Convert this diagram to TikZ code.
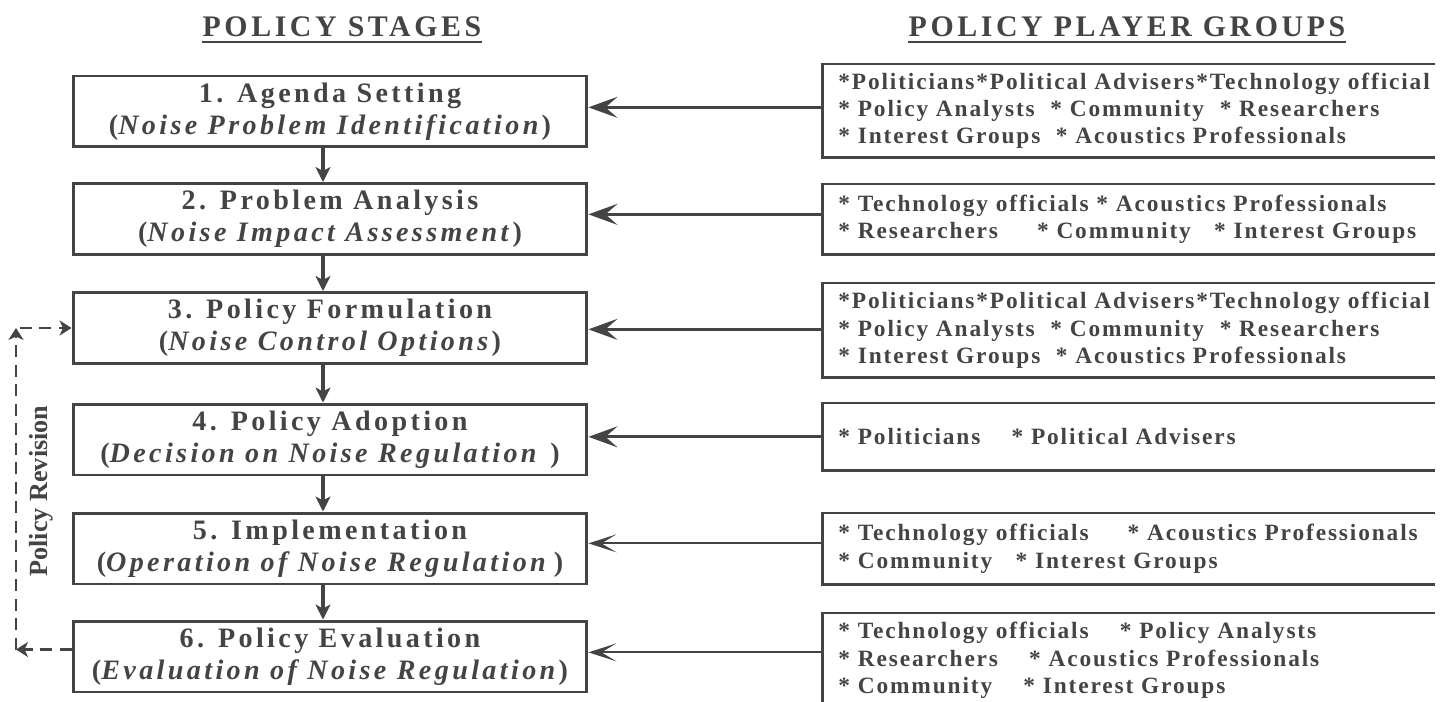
\documentclass[tikz,border=0pt]{standalone}
\usepackage{fontspec}
\setmainfont{Liberation Serif}
\newfontfamily\stagefont[LetterSpace=12]{Liberation Serif}
\newfontfamily\playerfont[LetterSpace=8]{Liberation Serif}
\usetikzlibrary{arrows.meta,calc}
\definecolor{ink}{RGB}{68,68,68}
\tikzset{
  stage/.style={draw=ink, line width=1.7pt, text=ink, minimum width=10.28cm, minimum height=1.42cm,
    inner sep=0pt, align=center, font=\stagefont\bfseries\fontsize{16}{18.2}\selectfont},
  players/.style={anchor=north west, inner xsep=0.32cm, inner ysep=0pt, text width=12.1cm,
    align=left, text=ink, font=\playerfont\bfseries\fontsize{13.3}{15.6}\selectfont},
  heading/.style={text=ink, inner sep=0pt, font=\stagefont\bfseries\fontsize{17}{20}\selectfont},
  openbox/.style={ink, line width=1.7pt},
  feed/.style={ink, line width=1.8pt, -{Stealth[length=0.58cm,width=0.42cm,inset=0.24cm]}},
  feedthin/.style={ink, line width=1.1pt, -{Stealth[length=0.56cm,width=0.36cm,inset=0.3cm]}},
  down/.style={ink, line width=1.8pt, -{Stealth[length=0.3cm,width=0.3cm,inset=0.08cm]}},
  revise/.style={ink, line width=1.4pt, dash pattern=on 0.24cm off 0.15cm,
    -{Stealth[length=0.24cm,width=0.3cm,inset=0.07cm]}}
}
\begin{document}
\begin{tikzpicture}[x=0.02cm,y=-0.02cm]
\useasboundingbox (0,0) rectangle (1452,702);
% headings
\node[heading] (h1) at (342,27) {POLICY STAGES};
\node[heading] (h2) at (1127,27) {POLICY PLAYER GROUPS};
\draw[ink,line width=1.2pt] ($(h1.south west)+(0,5)$) -- ($(h1.south east)+(0,5)$);
\draw[ink,line width=1.2pt] ($(h2.south west)+(0,5)$) -- ($(h2.south east)+(0,5)$);
% policy stages
\node[stage] (s1) at (330,111.5) {1. Agenda Setting\\(\textit{Noise Problem Identification})};
\node[stage] (s2) at (330,219) {2. Problem Analysis\\(\textit{Noise Impact Assessment})};
\node[stage] (s3) at (330,328) {3. Policy Formulation\\(\textit{Noise Control Options})};
\node[stage] (s4) at (330,439.5) {4. Policy Adoption\\(\textit{Decision on Noise Regulation} )};
\node[stage] (s5) at (330,548.5) {5. Implementation\\(\textit{Operation of Noise Regulation}\,)};
\node[stage] (s6) at (330,656.5) {6. Policy Evaluation\\(\textit{Evaluation of Noise Regulation})};
\foreach \a/\b in {s1/s2,s2/s3,s3/s4,s4/s5,s5/s6}
  \draw[down] ($(\a.south)+(-7,0)$) -- ($(\b.north)+(-7,0)$);
% player groups
\node[players, minimum height=1.86cm] (g1) at (822,64)
  {*Politicians*Political Advisers*Technology official\\
   {*} Policy Analysts~~* Community~~* Researchers\\
   {*} Interest Groups~~* Acoustics Professionals};
\node[players, minimum height=1.4cm] (g2) at (822,184)
  {* Technology officials * Acoustics Professionals\\
   {*} Researchers~~~~~* Community~~~* Interest Groups};
\node[players, minimum height=1.88cm] (g3) at (822,283)
  {*Politicians*Political Advisers*Technology official\\
   {*} Policy Analysts~~* Community~~* Researchers\\
   {*} Interest Groups~~* Acoustics Professionals};
\node[players, minimum height=1.34cm] (g4) at (822,403)
  {* Politicians~~~~* Political Advisers};
\node[players, minimum height=1.42cm] (g5) at (822,513)
  {* Technology officials~~~~~* Acoustics Professionals\\
   {*} Community~~~* Interest Groups};
\node[players, minimum height=1.88cm] (g6) at (822,613)
  {* Technology officials~~~~* Policy Analysts\\
   {*} Researchers~~~~* Acoustics Professionals\\
   {*} Community~~~~* Interest Groups};
\coordinate (edge) at (1435,0);
\foreach \i in {1,...,6}
  \draw[openbox] (edge |- g\i.north) -- (g\i.north west) -- (g\i.south west) -- (edge |- g\i.south);
% players feed the stages
\draw[feed] ($(g1.west)+(0,-3.5)$) -- ($(g1.west -| s1.east)+(0,-3.5)$);
\draw[feed] ($(g2.west)+(0,-5)$) -- ($(g2.west -| s2.east)+(0,-5)$);
\draw[feed] ($(g3.west)+(0,-1)$) -- ($(g3.west -| s3.east)+(0,-1)$);
\draw[feed] (g4.west) -- (g4.west -| s4.east);
\draw[feedthin] ($(g5.west)+(0,-5.5)$) -- ($(g5.west -| s5.east)+(0,-5.5)$);
\draw[feedthin] ($(g6.west)+(0,-8)$) -- ($(g6.west -| s6.east)+(0,-8)$);
% policy revision loop
\coordinate (rv) at (16,0);
\draw[revise] ($(s6.west)+(0,-7)$) -- ($(s6.west -| rv)+(0,-7)$);
\draw[revise] ($(s6.west -| rv)+(0,-7)$) -- (s3.west -| rv);
\draw[revise] ($(s3.west -| rv)+(4,0)$) -- (s3.west);
\node[rotate=90, text=ink, font=\bfseries\fontsize{14.9}{16}\selectfont] (rev) at (41,491) {Policy Revision};
\end{tikzpicture}
\end{document}
